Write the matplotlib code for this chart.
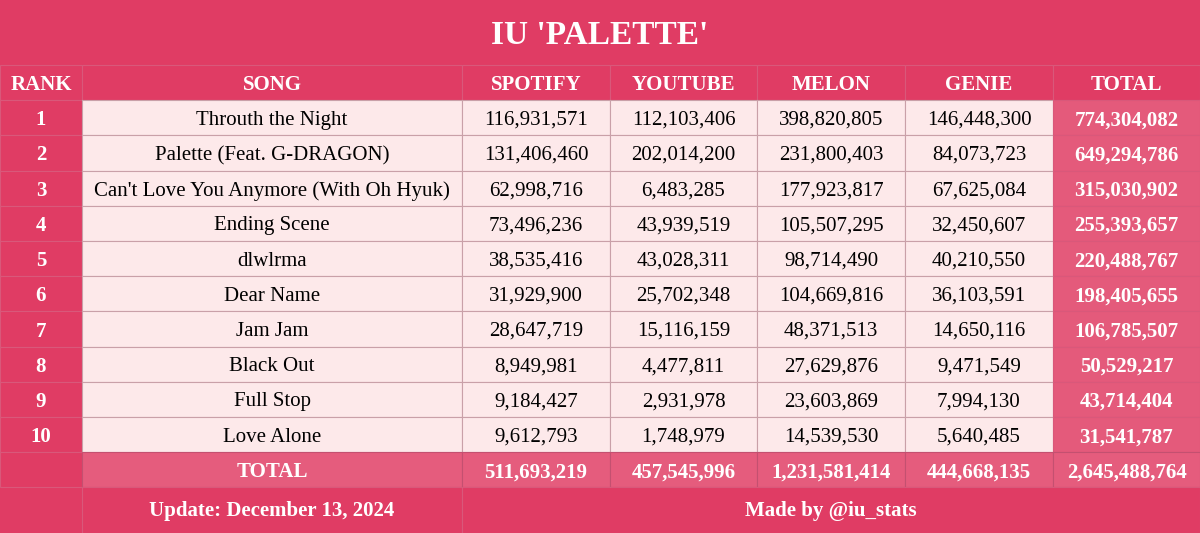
import matplotlib.pyplot as plt
from matplotlib.patches import Rectangle

plt.rcParams['font.family'] = ['Liberation Serif', 'DejaVu Serif']

title = "IU 'PALETTE'"
headers = ['RANK', 'SONG', 'SPOTIFY', 'YOUTUBE', 'MELON', 'GENIE', 'TOTAL']
songs = ['Throuth the Night', 'Palette (Feat. G-DRAGON)', "Can't Love You Anymore (With Oh Hyuk)",
         'Ending Scene', 'dlwlrma', 'Dear Name', 'Jam Jam', 'Black Out', 'Full Stop', 'Love Alone']
spotify = [116931571, 131406460, 62998716, 73496236, 38535416, 31929900, 28647719, 8949981, 9184427, 9612793]
youtube = [112103406, 202014200, 6483285, 43939519, 43028311, 25702348, 15116159, 4477811, 2931978, 1748979]
melon = [398820805, 231800403, 177923817, 105507295, 98714490, 104669816, 48371513, 27629876, 23603869, 14539530]
genie = [146448300, 84073723, 67625084, 32450607, 40210550, 36103591, 14650116, 9471549, 7994130, 5640485]
totals = [774304082, 649294786, 315030902, 255393657, 220488767, 198405655, 106785507, 50529217, 43714404, 31541787]
col_totals = [511693219, 457545996, 1231581414, 444668135, 2645488764]
update = 'Update: December 13, 2024'
credit = 'Made by @iu_stats'

BG = '#E03C64'
CELL = '#FDE9EA'
TOTCOL = '#E45A7B'
TOTROW = '#E55C7D'
LINE = '#C9A0A8'

xs = [0, 82, 462, 610, 757, 905, 1053, 1200]
top, rh = 65, 35.2
dy = 2.5  # nudge text down a little

fig = plt.figure(figsize=(12, 5.33), dpi=100)
ax = fig.add_axes([0, 0, 1, 1])
ax.set_xlim(0, 1200)
ax.set_ylim(533, 0)
ax.axis('off')
fig.patch.set_facecolor(BG)

def cell(x0, x1, y0, y1, fc, ec=LINE):
    ax.add_patch(Rectangle((x0, y0), x1 - x0, y1 - y0, fc=fc, ec=ec, lw=0.8))

ax.text(600, 35, title, ha='center', va='center', color='white', fontsize=24, fontweight='bold')

for i, h in enumerate(headers):
    cell(xs[i], xs[i + 1], top, top + rh, BG, '#D9587A')
    ax.text((xs[i] + xs[i + 1]) / 2, top + rh / 2 + dy, h, ha='center', va='center',
            color='white', fontsize=15, fontweight='bold')

fmt = lambda v: f'{v:,}'
for r in range(len(songs)):
    y0 = top + rh * (r + 1)
    yc = y0 + rh / 2 + dy
    vals = [songs[r], fmt(spotify[r]), fmt(youtube[r]), fmt(melon[r]), fmt(genie[r])]
    cell(xs[0], xs[1], y0, y0 + rh, BG, '#D9587A')
    ax.text(41, yc, str(r + 1), ha='center', va='center', color='white', fontsize=15, fontweight='bold')
    for j, v in enumerate(vals):
        cell(xs[j + 1], xs[j + 2], y0, y0 + rh, CELL)
        ax.text((xs[j + 1] + xs[j + 2]) / 2, yc, v, ha='center', va='center', color='black', fontsize=15)
    cell(xs[6], xs[7], y0, y0 + rh, TOTCOL, '#D9587A')
    ax.text((xs[6] + xs[7]) / 2, yc, fmt(totals[r]), ha='center', va='center',
            color='white', fontsize=15, fontweight='bold')

y0 = top + rh * 11
cell(xs[0], xs[1], y0, y0 + rh, BG, '#D9587A')
cell(xs[1], xs[2], y0, y0 + rh, TOTROW, '#C45070')
ax.text((xs[1] + xs[2]) / 2, y0 + rh / 2 + dy, 'TOTAL', ha='center', va='center',
        color='white', fontsize=15, fontweight='bold')
for j, v in enumerate(col_totals):
    cell(xs[j + 2], xs[j + 3], y0, y0 + rh, TOTROW, '#C45070')
    ax.text((xs[j + 2] + xs[j + 3]) / 2, y0 + rh / 2 + dy, fmt(v), ha='center', va='center',
            color='white', fontsize=15, fontweight='bold')

yf = y0 + rh
cell(xs[1], xs[2], yf, 533, BG, '#D9587A')
cell(xs[2], xs[7], yf, 533, BG, '#D9587A')
ax.text((xs[1] + xs[2]) / 2, 511, update, ha='center', va='center', color='white', fontsize=15, fontweight='bold')
ax.text((xs[2] + xs[7]) / 2, 511, credit, ha='center', va='center', color='white', fontsize=15, fontweight='bold')

fig.savefig('out.png', dpi=100, facecolor=BG)
